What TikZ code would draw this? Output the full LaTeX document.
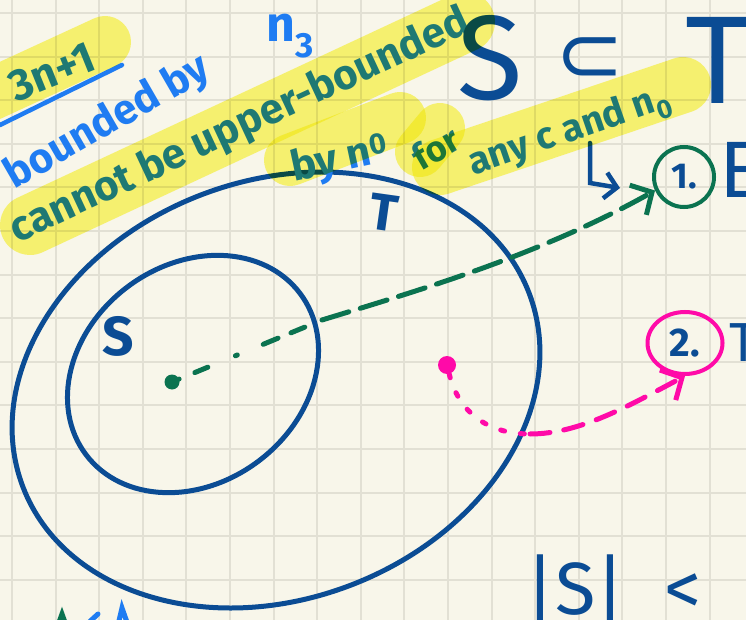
\documentclass[tikz,border=0pt]{standalone}
\usepackage{fontspec}
\setmainfont{Fira Sans}
\newfontfamily\symfont{DejaVu Sans}
\usetikzlibrary{arrows.meta,shapes.geometric}
\definecolor{paper}{HTML}{F8F6EA}
\definecolor{gridgray}{HTML}{E2E0D4}
\definecolor{inkblue}{HTML}{0B4C94}
\definecolor{penblue}{HTML}{1F7CF2}
\definecolor{inkgreen}{HTML}{0B7350}
\definecolor{inkpink}{HTML}{FF0AA8}
\definecolor{marker}{HTML}{FCF97A}
\tikzset{
  sz/.style={font=\fontsize{#1}{#1}\selectfont},
  bsz/.style={font=\bfseries\fontsize{#1}{#1}\selectfont},
  gridline/.style={gridgray,line width=2},
  pen/.style={inkblue,line width=5},
  hilite/.style={marker,line width=#1,line cap=round},
  greenpath/.style={inkgreen,line width=5,line cap=round},
  pinkpath/.style={inkpink,line width=5,line cap=round},
  barb/.style={-{Straight Barb[length=16pt,width=34pt,line width=5pt]}}
}
\begin{document}
\begin{tikzpicture}[x=1pt,y=-1pt]
 \useasboundingbox (0,0) rectangle (746,620);
 \clip (0,0) rectangle (746,620);
 \fill[paper] (0,0) rectangle (746,620);
 % squared paper
 \foreach \i in {0,...,16} \draw[gridline] ({12+43.6*\i},0) -- ({12+43.6*\i},620);
 \foreach \j in {0,...,13} \draw[gridline] (0,{13+43.6*\j}) -- (746,{13+43.6*\j});
 % the two sets
 \draw[pen,rotate around={21:(276,390)}] (276,390) ellipse [x radius=271,y radius=209];
 \draw[pen,rotate around={37:(193,374)}] (193,374) ellipse [x radius=134,y radius=109];
 \node[bsz=55,text=inkblue] (slabel) at (118,336) {S};
 \node[bsz=52,text=inkblue,rotate=-8] (tlabel) at (384,213) {T};
 % notes at the top
 \node[bsz=44,text=penblue,rotate=22] (poly) at (52,72) {3n+1};
 \draw[penblue,line width=4.5,line cap=round] (0,125) -- (122,65);
 \node[bsz=42,text=penblue,rotate=30] (bounded) at (108,123) {bounded by};
 \node[bsz=50,text=penblue] (nthree) at (290,36) {n\textsubscript{3}};
 \node[bsz=42,text=penblue,rotate=25] (cannot) at (240,127) {cannot be upper-bounded};
 \node[bsz=42,text=penblue,rotate=12] (byn) at (340,160) {by n\textsuperscript{0}};
 \node[bsz=36,text=penblue,rotate=30] (for) at (436,148) {for};
 \node[bsz=38,text=penblue,rotate=19] (anyc) at (570,132) {any c and n\textsubscript{0}};
 \node[sz=120,text=inkblue] (bigs) at (490,58) {S};
 \node[text=inkblue,font=\symfont\fontsize{82}{82}\selectfont] (subset) at (590,60) {⊂};
 \node[sz=125,text=inkblue] (bigt) at (718,60) {T};
 % cases
 \draw[pen,line width=4.5,line cap=round,-{Straight Barb[length=12pt,width=26pt]}] (590,143) -- (590,183) -- (620,188);
 \node[circle,draw=inkgreen,line width=4,minimum size=60,bsz=36,text=inkblue] (one) at (684,177) {1.};
 \node[sz=80,text=inkblue,anchor=west] (eword) at (716,170) {E};
 \node[ellipse,draw=inkpink,line width=4,minimum width=75,minimum height=62,bsz=40,text=inkblue] (two) at (685,343) {2.};
 \node[sz=55,text=inkblue,anchor=west] (tword) at (726,343) {T};
 \node[sz=74,text=inkblue,anchor=base west] (card) at (522,614) {|S|~~<};
 % elements and arrows
 \node[circle,fill=inkgreen,inner sep=0,minimum size=15] (sdot) at (172,382) {};
 \node[circle,fill=inkpink,inner sep=0,minimum size=18] (pdot) at (447,365) {};
 \coordinate (gbend) at (322,320);
 \coordinate (pbend) at (530,434);
 \draw[greenpath,dash pattern=on 0pt off 17pt on 14pt off 30pt on 2pt off 28pt on 16pt off 14pt on 15pt off 40pt] (sdot) -- (gbend);
 \draw[greenpath,dash pattern=on 28pt off 12pt,barb] (gbend) .. controls (420,290) and (540,255) .. (one.205);
 \draw[pinkpath,dash pattern=on 4pt off 16pt] (pdot) .. controls (458,410) and (485,434) .. (pbend);
 \draw[pinkpath,dash pattern=on 20pt off 14pt,barb] (pbend) .. controls (580,434) and (630,405) .. (two.south);
 % bits of the next line
 \draw[inkgreen,line width=5,line cap=round] (58,625) -- (62,614) -- (66,625);
 \draw[penblue,line width=5,line cap=round] (86,625) -- (98,614);
 \draw[penblue,line width=5,line cap=round] (118,625) -- (122,608) -- (128,625);
 % highlighter
 \begin{scope}[blend mode=multiply]
  \draw[hilite=52] (-10,95) -- (105,42);
  \draw[hilite=60] (30,225) -- (465,22);
  \draw[hilite=52] (290,160) -- (400,118);
  \draw[hilite=56] (440,167) -- (683,85);
  \draw[hilite=50] (420,152) -- (440,128);
 \end{scope}
\end{tikzpicture}
\end{document}
